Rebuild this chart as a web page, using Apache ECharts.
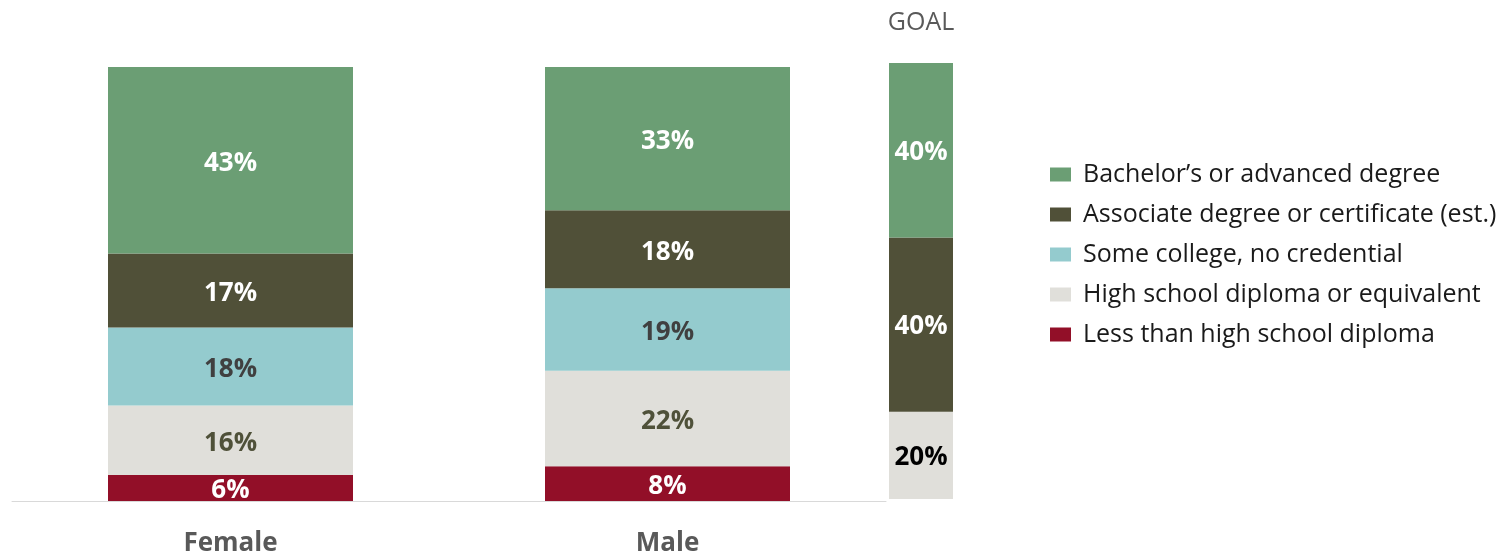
<!DOCTYPE html>
<html>
<head>
<meta charset="utf-8">
<script src="https://cdn.jsdelivr.net/npm/echarts@6/dist/echarts.min.js"></script>
<style>
  html, body { margin: 0; padding: 0; background: #fff; }
  #chart { width: 1506px; height: 557px; }
</style>
</head>
<body>
<div id="chart"></div>
<script>
// categories and values
var groups = ['Female', 'Male']
var levels = ['Less than high school diploma', 'High school diploma or equivalent', 'Some college, no credential', 'Associate degree or certificate (est.)', 'Bachelor\u2019s or advanced degree']
var lessThanHs = [6, 8]
var highSchool = [16, 22]
var someCollege = [18, 19]
var associate = [17, 18]
var bachelor = [43, 33]
var goalCats = ['GOAL']
var goalHighSchool = [20]
var goalAssociate = [40]
var goalBachelor = [40]

var colors = ['#920f28', '#e0dfda', '#94cbce', '#505038', '#6b9e74']
var labelColors = ['#ffffff', '#4f5139', '#404040', '#ffffff', '#ffffff']
var groupValues = [lessThanHs, highSchool, someCollege, associate, bachelor]
var goalValues = [null, goalHighSchool, null, goalAssociate, goalBachelor]
var goalLabelColors = ['#ffffff', '#000000', '#ffffff', '#ffffff', '#ffffff']

var font = '"Open Sans", "Noto Sans", sans-serif'

var series = []
levels.forEach(function (name, i) {
  series.push({
    name: name,
    type: 'bar',
    stack: 'main',
    xAxisIndex: 0,
    yAxisIndex: 0,
    barWidth: 245,
    data: groupValues[i],
    itemStyle: { color: colors[i] },
    label: {
      show: true,
      position: 'inside',
      offset: [0, 3],
      formatter: '{c}%',
      color: labelColors[i],
      fontFamily: font,
      fontWeight: 'bold',
      fontSize: 26
    }
  })
  if (goalValues[i]) {
    series.push({
      name: name,
      type: 'bar',
      stack: 'goal',
      xAxisIndex: 1,
      yAxisIndex: 1,
      barWidth: '100%',
      data: goalValues[i],
      itemStyle: { color: colors[i] },
      label: {
        show: true,
        position: 'inside',
        offset: [0, 2],
        formatter: '{c}%',
        color: goalLabelColors[i],
        fontFamily: font,
        fontWeight: 'bold',
        fontSize: 26
      }
    })
  }
})

var chart = echarts.init(document.getElementById('chart'))
chart.setOption({
  animation: false,
  legend: {
    orient: 'vertical',
    left: 1050,
    top: 162,
    padding: 0,
    itemWidth: 21,
    itemHeight: 14,
    itemGap: 15,
    icon: 'rect',
    data: levels.slice().reverse(),
    textStyle: { fontFamily: font, fontSize: 25, color: '#1a1a1a', padding: [0, 0, 0, 7] }
  },
  grid: [
    { left: 12, width: 874, top: 67, bottom: 55 },
    { left: 889, width: 64, top: 63, bottom: 58 }
  ],
  xAxis: [
    {
      gridIndex: 0,
      type: 'category',
      data: groups,
      axisTick: { show: false },
      axisLine: { lineStyle: { color: '#d9d9d9', width: 1 } },
      axisLabel: { margin: 30, color: '#595959', fontFamily: font, fontWeight: 'bold', fontSize: 26 }
    },
    {
      gridIndex: 1,
      type: 'category',
      data: goalCats,
      position: 'top',
      axisTick: { show: false },
      axisLine: { show: false },
      axisLabel: { margin: 28, color: '#595959', fontFamily: font, fontSize: 25 }
    }
  ],
  yAxis: [
    { gridIndex: 0, type: 'value', min: 0, max: 100, show: false },
    { gridIndex: 1, type: 'value', min: 0, max: 100, show: false }
  ],
  series: series
})
</script>
</body>
</html>
